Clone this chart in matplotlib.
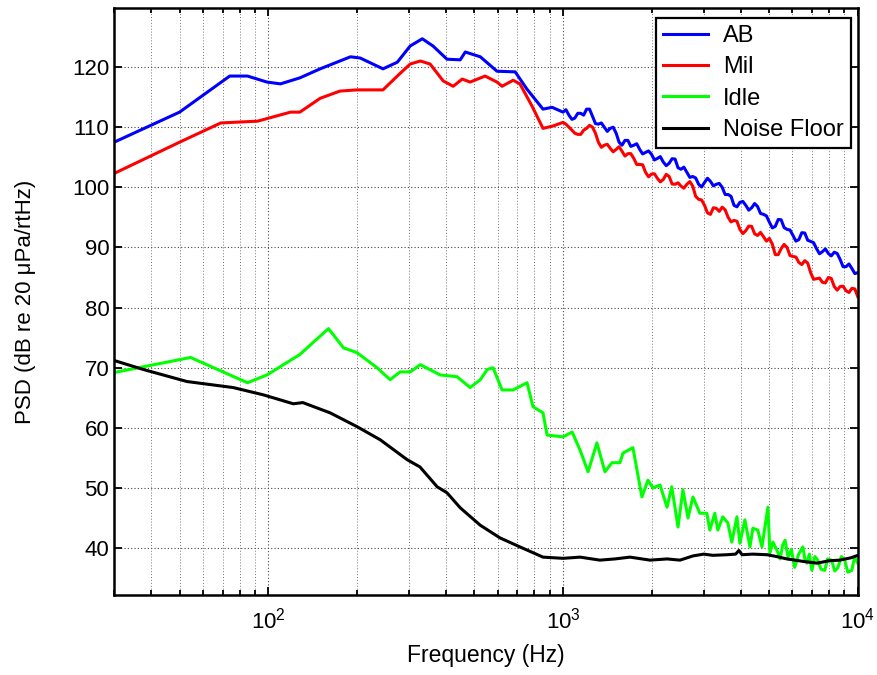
import matplotlib
matplotlib.use("Agg")
import matplotlib.pyplot as plt
from matplotlib.ticker import LogLocator, NullFormatter, FixedLocator

plt.rcParams['font.family'] = ['Liberation Sans', 'DejaVu Sans']
plt.rcParams['mathtext.fontset'] = 'custom'
plt.rcParams['mathtext.rm'] = 'Liberation Sans'
plt.rcParams['mathtext.it'] = 'Liberation Sans:italic'

# ---------------- data ----------------
# high-frequency grid (1 kHz .. 10 kHz) shared by the AB and Mil traces
freq_hi = [1000, 1023, 1047, 1072, 1096, 1122, 1148, 1175, 1202, 1230,
           1259, 1288, 1318, 1349, 1380, 1413, 1445, 1479, 1514, 1549,
           1585, 1622, 1660, 1698, 1738, 1778, 1820, 1862, 1905, 1950,
           1995, 2042, 2089, 2138, 2188, 2239, 2291, 2344, 2399, 2455,
           2512, 2570, 2630, 2692, 2754, 2818, 2884, 2951, 3020, 3090,
           3162, 3236, 3311, 3388, 3467, 3548, 3631, 3715, 3802, 3890,
           3981, 4074, 4169, 4266, 4365, 4467, 4571, 4677, 4786, 4898,
           5012, 5129, 5248, 5370, 5495, 5623, 5754, 5888, 6026, 6166,
           6310, 6457, 6607, 6761, 6918, 7079, 7244, 7413, 7586, 7762,
           7943, 8128, 8318, 8511, 8710, 8913, 9120, 9333, 9550, 9772,
           10000]

ab_freq_lo = [30, 50, 74, 85, 99, 110, 128, 150, 190, 205, 245, 274, 303, 333,
              362, 404, 448, 466, 524, 597, 688, 755, 855, 918]
ab_psd_lo = [107.5, 112.5, 118.5, 118.5, 117.5, 117.2, 118.2, 119.7, 121.7,
             121.5, 119.7, 120.8, 123.5, 124.7, 123.5, 121.3, 121.2, 122.5,
             121.7, 119.3, 119.2, 116.3, 113.0, 113.3]
ab_psd_hi = [112.5, 112.9, 112.0, 111.3, 111.5, 112.3, 112.3, 112.0, 113.0, 113.0,
             111.8, 110.6, 110.5, 110.7, 110.0, 109.3, 109.8, 110.0, 109.0, 107.5,
             107.0, 107.8, 107.8, 106.8, 107.0, 107.25, 106.3, 105.55, 105.8, 106.05,
             105.5, 104.55, 104.8, 105.1, 104.2, 103.6, 104.0, 104.75, 104.7, 103.25,
             103.0, 103.35, 102.5, 101.65, 101.8, 101.55, 100.5, 100.05, 100.8, 101.5,
             101.0, 100.25, 100.5, 100.65, 100.0, 98.8, 98.8, 98.5, 97.0, 96.75,
             97.5, 97.65, 97.0, 96.2, 96.6, 97.3, 96.8, 95.65, 95.5, 95.25,
             94.2, 93.25, 93.5, 94.65, 94.6, 93.3, 93.0, 92.9, 92.0, 91.05,
             91.3, 92.45, 92.4, 91.2, 91.0, 90.8, 89.8, 88.95, 89.3, 89.75,
             89.0, 88.6, 89.2, 89.0, 88.0, 86.8, 86.8, 87.25, 86.5, 85.65,
             85.8]

mil_freq_lo = [30, 50, 69, 92, 119, 128, 150, 175, 200, 245, 274, 303, 328, 354,
               392, 424, 455, 484, 544, 597, 621, 677, 714, 785, 855, 925]
mil_psd_lo = [102.3, 107.5, 110.7, 111.0, 112.5, 112.5, 114.8, 116.0, 116.2,
              116.2, 118.5, 120.5, 121.0, 120.5, 117.7, 116.8, 118.0, 117.5,
              118.5, 117.5, 116.8, 117.8, 117.2, 113.5, 109.8, 110.2]
mil_psd_hi = [110.8, 110.5, 110.0, 109.5, 109.0, 108.8, 108.8, 109.5, 109.8, 110.3,
              110.0, 109.0, 107.5, 106.65, 107.0, 107.15, 106.5, 105.9, 106.3, 106.75,
              106.0, 105.2, 105.6, 105.6, 104.8, 103.8, 103.8, 103.75, 102.5, 101.75,
              102.2, 102.25, 101.5, 100.9, 101.3, 102.15, 101.8, 100.55, 100.5, 100.75,
              100.2, 99.85, 100.5, 100.95, 100.2, 98.5, 98.0, 97.9, 97.0, 95.75,
              95.5, 96.6, 96.5, 96.0, 96.7, 96.25, 95.0, 94.25, 94.5, 94.35,
              93.0, 92.3, 92.8, 93.55, 93.5, 92.25, 92.0, 92.5, 91.8, 91.05,
              91.5, 90.55, 88.8, 88.8, 89.8, 90.5, 90.0, 88.65, 88.5, 88.4,
              87.5, 87.15, 87.8, 87.4, 85.8, 84.7, 84.8, 84.9, 84.2, 84.1,
              85.0, 84.85, 83.5, 82.9, 83.5, 83.55, 82.8, 82.5, 83.2, 83.1,
              81.8]

idle_freq = [30, 54.5, 85, 99, 128, 160, 180, 200, 234, 259, 280, 303, 328, 383,
             437, 484, 524, 553, 579, 621, 677, 755, 791, 855, 883, 1000, 1074,
             1142, 1216, 1303, 1387, 1465, 1560, 1597, 1726, 1852, 1941, 2018,
             2133, 2253, 2338, 2455, 2551, 2654, 2759, 2911, 3076, 3147, 3273,
             3350, 3483, 3622, 3738, 3890, 3981, 4140, 4306, 4406, 4580, 4729,
             4955, 5033, 5150, 5313, 5450, 5560, 5666, 5796, 5950, 6107, 6300,
             6511, 6620, 6718, 6850, 6984, 7150, 7311, 7500, 7723, 7900, 8150,
             8350, 8550, 8800, 9025, 9250, 9544, 9750, 10000]
idle_psd = [69.2, 71.7, 67.5, 68.8, 72.2, 76.5, 73.3, 72.5, 70.0, 68.0, 69.3,
            69.3, 70.5, 68.8, 68.5, 66.7, 68.0, 69.7, 70.0, 66.3, 66.3, 67.5,
            63.5, 62.5, 58.8, 58.5, 59.3, 56.3, 52.7, 57.5, 52.7, 54.2, 54.2,
            55.8, 56.7, 48.5, 51.3, 50.0, 50.5, 46.8, 50.2, 43.5, 49.7, 45.0,
            48.5, 45.8, 45.8, 43.0, 45.8, 43.0, 45.2, 44.2, 41.0, 45.2, 40.8,
            44.7, 40.2, 43.3, 43.0, 40.2, 46.8, 39.2, 41.0, 39.7, 38.2, 40.5,
            41.3, 38.5, 39.8, 36.8, 39.0, 40.2, 38.0, 37.5, 39.0, 36.3, 38.6,
            38.0, 36.5, 36.3, 38.2, 38.0, 36.2, 36.7, 38.6, 38.0, 36.0, 36.3,
            38.5, 37.5]

noise_freq = [30, 37.7, 53, 76, 96, 121.6, 131, 162, 200, 240, 296, 327, 374,
              404, 448, 524, 611, 714, 855, 1000, 1142, 1334, 1500, 1687, 1973,
              2254, 2493, 2759, 3000, 3224, 3600, 3850, 3950, 4050, 4400, 4918,
              5300, 5747, 6500, 7268, 8000, 8690, 9500, 10000]
noise_psd = [71.2, 69.7, 67.7, 66.7, 65.5, 64.0, 64.2, 62.5, 60.2, 58.0, 54.7,
             53.5, 50.2, 49.2, 46.7, 43.8, 41.7, 40.2, 38.5, 38.3, 38.5, 38.0,
             38.2, 38.5, 38.0, 38.2, 38.0, 38.7, 39.0, 38.8, 38.9, 39.0, 39.6,
             38.9, 39.0, 38.9, 38.6, 38.2, 37.8, 37.5, 37.9, 38.0, 38.4, 38.8]

labels = ['AB', 'Mil', 'Idle', 'Noise Floor']
colors = ['#0000ff', '#ff0000', '#00ff00', '#000000']
y_ticks = [40, 50, 60, 70, 80, 90, 100, 110, 120]

# ---------------- plot ----------------
fig = plt.figure(figsize=(8.78, 6.75), dpi=100)
ax = fig.add_axes([0.130, 0.1185, 0.847, 0.8695])

series = [(ab_freq_lo + freq_hi, ab_psd_lo + ab_psd_hi),
          (mil_freq_lo + freq_hi, mil_psd_lo + mil_psd_hi),
          (idle_freq, idle_psd),
          (noise_freq, noise_psd)]
for (f, v), lab, c in zip(series, labels, colors):
    ax.plot(f, v, color=c, lw=2.2, label=lab, solid_joinstyle='round')

ax.set_xscale('log')
ax.set_xlim(30, 10000)
ax.set_ylim(32.2, 129.8)
ax.yaxis.set_major_locator(FixedLocator(y_ticks))
ax.xaxis.set_major_locator(LogLocator(base=10, numticks=10))
ax.xaxis.set_minor_locator(LogLocator(base=10, subs=range(2, 10), numticks=20))
ax.xaxis.set_minor_formatter(NullFormatter())

ax.grid(True, which='major', axis='both', linestyle=(0, (1, 2)), color='#444444', lw=0.8)
ax.grid(True, which='minor', axis='x', linestyle=(0, (1, 2)), color='#777777', lw=0.7)
ax.set_axisbelow(True)

ax.tick_params(which='both', direction='in', top=True, right=True, labelsize=16,
               width=1.3, colors='black')
ax.tick_params(which='major', length=6)
ax.tick_params(which='minor', length=3.5)
ax.tick_params(axis='y', pad=3.5)
ax.tick_params(axis='x', pad=9)
for s in ax.spines.values():
    s.set_linewidth(1.8)

ax.set_xlabel('Frequency (Hz)', fontsize=16.5)
ax.xaxis.set_label_coords(0.5, -0.083)
ax.set_ylabel('PSD (dB re 20 \u03bcPa/rtHz)', fontsize=16)
ax.yaxis.set_label_coords(-0.105, 0.5)

leg = ax.legend(loc='upper right', bbox_to_anchor=(0.9906, 0.983), fontsize=17,
                handlelength=1.9, handletextpad=0.65, labelspacing=0.39,
                borderaxespad=0, borderpad=0.3, fancybox=False, framealpha=1,
                edgecolor='black')
leg.get_frame().set_linewidth(1.6)

fig.savefig('out.png', dpi=100)
